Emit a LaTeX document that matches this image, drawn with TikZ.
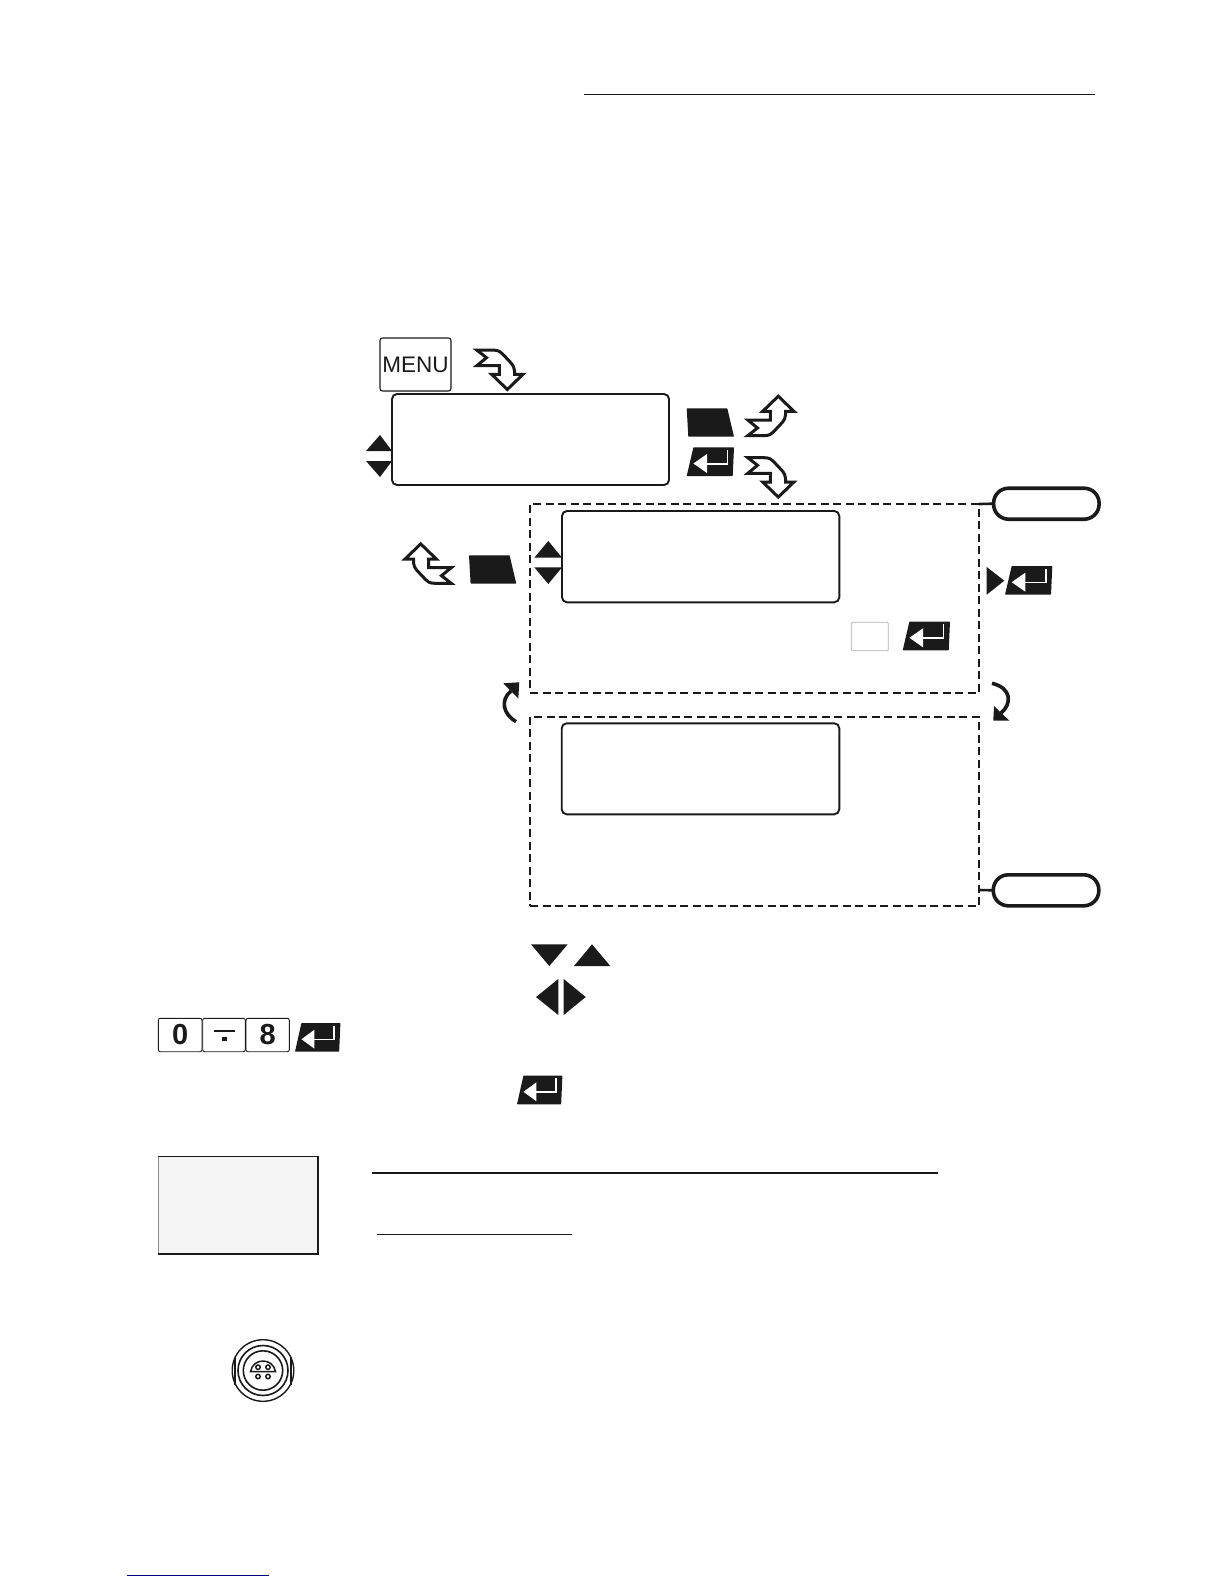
\documentclass[tikz,border=0pt]{standalone}
\usepackage{fontspec}
\setmainfont{Liberation Sans}
\definecolor{ink}{HTML}{1A1A1A}
\tikzset{
  x=1pt,y=-1pt,
  lcd/.style={draw=ink,line width=1.9pt,rounded corners=5pt,inner sep=0pt,outer sep=0pt,anchor=north west},
  dashbox/.style={draw=ink,line width=1.7pt,dash pattern=on 8pt off 4.5pt,inner sep=0pt,outer sep=0pt,anchor=north west},
  pill/.style={draw=ink,line width=3.6pt,rounded corners=15pt,inner sep=0pt,outer sep=0pt,anchor=north west,minimum width=105.5pt,minimum height=31pt},
  numkey/.style={draw=ink,line width=0.9pt,rounded corners=2pt,inner sep=0pt,outer sep=0pt,anchor=north west,minimum height=33.4pt,font=\fontsize{29}{29}\selectfont\bfseries,text=ink},
  solid tri/.style={fill=ink,draw=none},
  zigarrow/.pic={
    \draw[ink,fill=white,line width=3pt,line join=miter,miter limit=6]
      (0,-1.2) -- (-15.6,-16.3) -- (-8,-16.3) -- (-8,-25) -- (-30.5,-25) -- (-20.8,-33) -- (-30.5,-40.6) -- (-14,-40.6)
      .. controls (-9,-40.6) and (-6.5,-38.8) .. (-5,-37) -- (3.5,-28)
      .. controls (6,-25) and (7.2,-22.5) .. (7.2,-20) -- (7.2,-16.3) -- (15.6,-16.3) -- cycle;
  },
  softkey/.pic={
    \fill[ink,rounded corners=0.6pt] (0,0) -- (40.6,0) -- (47.3,28.4) -- (1.6,28.4) -- cycle;
  },
  enterkey/.pic={
    \fill[ink,rounded corners=0.6pt] (0,0) -- (6.7,-28.7) -- (47.3,-28.7) -- (46,0) -- cycle;
    \draw[white,line width=1.7pt] (40.7,-26) -- (40.7,-12.3) -- (18,-12.3);
    \fill[white] (6.7,-12.5) -- (20.3,-22) -- (20.3,-3) -- cycle;
  }
}
\begin{document}
\begin{tikzpicture}
\useasboundingbox (0,0) rectangle (1224,1584);
\fill[white] (0,0) rectangle (1224,1584);

% rules
\draw[ink,line width=1pt] (583.7,94.6) -- (1094.7,94.6);
\draw[ink,line width=2pt] (372,1172.7) -- (938,1172.7);
\draw[ink,line width=1pt] (377,1234.3) -- (572,1234.3);
\draw[blue!50!black,line width=1pt] (127,1575) -- (269,1575);

% menu key
\node[draw=ink,line width=1.1pt,rounded corners=2.5pt,inner sep=0pt,outer sep=0pt,anchor=north west,
  minimum width=71pt,minimum height=53pt,font=\fontsize{22.5}{22.5}\selectfont,text=ink] (menu) at (380,338) {MENU};
\pic at (507.3,390.7) {zigarrow};

% first display
\node[lcd,minimum width=277pt,minimum height=91pt] (lcdA) at (392,394) {};
\fill[solid tri] (366,451) -- (380,435) -- (392,451) -- cycle;
\fill[solid tri] (366,461) -- (380,477) -- (392,461) -- cycle;
\pic at (686.7,408.3) {softkey};
\pic at (686.7,476) {enterkey};
\pic[yscale=-1] at (778.3,395) {zigarrow};
\pic at (778.3,498.3) {zigarrow};

% dashed groups
\node[dashbox,minimum width=449pt,minimum height=188.4pt] (groupA) at (530,504.3) {};
\node[dashbox,minimum width=449pt,minimum height=189.3pt] (groupB) at (530,716.7) {};

% second display
\node[lcd,minimum width=277.3pt,minimum height=91.3pt] (lcdB) at (562,511) {};
\fill[solid tri] (534.3,557.7) -- (548.3,541) -- (562,557.7) -- cycle;
\fill[solid tri] (534.3,567.3) -- (548.3,584) -- (562,567.3) -- cycle;
\pic[xscale=-1,yscale=-1] at (420.7,542.7) {zigarrow};
\pic at (469,555.3) {softkey};

% third display
\node[lcd,minimum width=277.6pt,minimum height=91pt] (lcdC) at (561.7,723.3) {};

% right column
\node[pill] (pillA) at (993.6,488.2) {};
\node[pill] (pillB) at (993.3,874.8) {};
\coordinate (tieA) at (979,504);
\coordinate (tieB) at (979,890);
\draw[ink,line width=2.6pt] (tieA) -- (pillA.west);
\draw[ink,line width=2.6pt] (tieB) -- (pillB.west);
\fill[solid tri] (986.7,567) -- (1004.3,580.7) -- (986.7,594.7) -- cycle;
\pic at (1005,594.7) {enterkey};
\node[draw=black!30,line width=0.7pt,rounded corners=1pt,inner sep=0pt,outer sep=0pt,anchor=north west,
  minimum width=37pt,minimum height=28.4pt] (blank) at (851.3,622.3) {};
\pic at (902.7,650.3) {enterkey};

% curved arrows
\draw[ink,line width=3.6pt] (516,721.7) .. controls (503,714) and (500,700) .. (511,691);
\fill[ink] (519.3,682.3) -- (503.3,683.3) -- (518.3,698.3) -- cycle;
\draw[ink,line width=3.6pt] (992,683.3) .. controls (1012,688) and (1012,704) .. (1001,713);
\fill[ink] (994,706) -- (993.3,720.7) -- (1009.3,720.7) -- cycle;

% navigation triangles
\fill[solid tri] (531,944.3) -- (567.7,944.3) -- (549.3,966) -- cycle;
\fill[solid tri] (574,966) -- (610.3,966) -- (592,944.3) -- cycle;
\fill[solid tri] (558.3,979) -- (558.3,1015) -- (536,997) -- cycle;
\fill[solid tri] (563.7,979) -- (563.7,1015) -- (585.7,997) -- cycle;

% number keys
\node[numkey,minimum width=43.7pt] (keyzero) at (158.3,1018.3) {0};
\node[numkey,minimum width=42.6pt] (keydot) at (202.7,1018.3) {};
\node[numkey,minimum width=43.3pt] (keyeight) at (246,1018.3) {8};
\fill[ink] (214,1030) rectangle (234.7,1032.4);
\fill[ink] (222.3,1036.7) rectangle (226.7,1040.7);
\pic[xscale=.96] at (295,1051.7) {enterkey};
\pic[xscale=.96] at (517,1104.3) {enterkey};

% grey panel
\fill[black!4] (158.3,1156) rectangle (319,1255);
\draw[black!45,line width=0.8pt] (158.3,1255) -- (158.3,1156);
\draw[ink,line width=1pt] (158,1156.3) -- (319,1156.3);
\draw[ink,line width=2pt] (318,1156) -- (318,1254) -- (158.3,1254);

% connector socket
\begin{scope}[shift={(263,1370.5)}]
  \draw[ink,line width=1.4pt] (0,0) circle (30.8);
  \draw[ink,line width=1.6pt] (0,0) circle (25);
  \draw[ink,line width=1.6pt] (0,0) circle (19.7);
  \draw[ink,line width=1.3pt] (-28,-14) -- (-28,14) (28,-14) -- (28,14);
  \draw[ink,line width=1.5pt] (-12.5,1) -- (12.5,1) .. controls (11,-6) and (6,-9.5) .. (0,-9.5) .. controls (-6,-9.5) and (-11,-6) .. (-12.5,1) -- cycle;
  \draw[ink,line width=1.5pt] (-5,-3.3) circle (2.2) (5,-3.3) circle (2.2) (-5,6) circle (2.2) (5,6) circle (2.2);
\end{scope}
\end{tikzpicture}
\end{document}
